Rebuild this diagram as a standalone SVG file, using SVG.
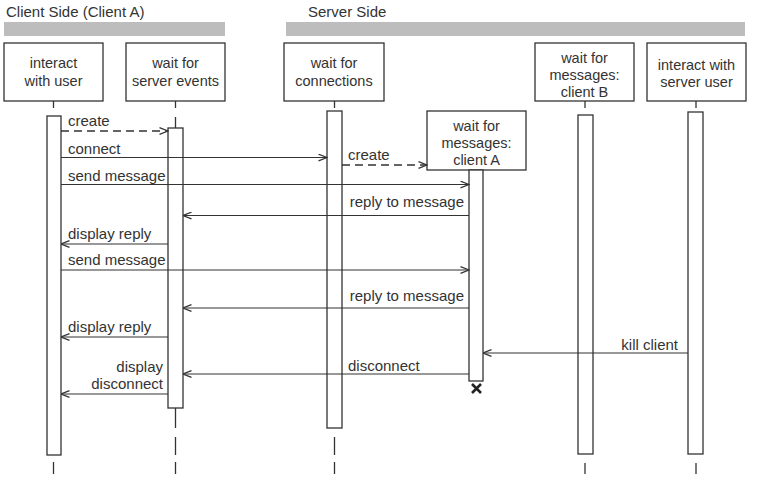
<svg xmlns="http://www.w3.org/2000/svg" width="760" height="487" viewBox="0 0 760 487">
<style>
text{font-family:"Liberation Sans",Arial,sans-serif;fill:#333}
.hd{font-size:15px}
.bl{font-size:14.5px;text-anchor:middle}
.ml{font-size:15px}
.end{text-anchor:end}
.box{fill:#fff;stroke:#333;stroke-width:1.3}
.bar{fill:#fff;stroke:#333;stroke-width:1.3}
.band{fill:#bdbdbd}
.life{stroke:#333;stroke-width:1.3}
.msg{stroke:#333;stroke-width:1.1;fill:none;marker-end:url(#arr)}
.dash{stroke-dasharray:8,5;stroke-width:1.4}
</style>
<defs>
<marker id="arr" viewBox="0 0 10 8" refX="9.5" refY="4" markerWidth="10" markerHeight="8" markerUnits="userSpaceOnUse" orient="auto">
<path d="M1,0.7 L9.5,4 L1,7.3" fill="none" stroke="#333" stroke-width="1.3"/>
</marker>
</defs>
<rect width="760" height="487" fill="#fff"/>
<g id="headers">
<text class="hd" x="6" y="17">Client Side (Client A)</text>
<rect class="band" x="4" y="22" width="221" height="14"/>
<text class="hd" x="308" y="17">Server Side</text>
<rect class="band" x="286" y="22" width="459" height="14"/>
</g>
<g id="lifelines">
<line class="life" x1="53.5" y1="101" x2="53.5" y2="108"/>
<line class="life" x1="53.5" y1="462" x2="53.5" y2="474"/>
<line class="life" x1="175.5" y1="101" x2="175.5" y2="108"/>
<line class="life" x1="175.5" y1="117" x2="175.5" y2="128"/>
<line class="life" x1="175.5" y1="408" x2="175.5" y2="428"/>
<line class="life" x1="175.5" y1="437" x2="175.5" y2="455"/>
<line class="life" x1="175.5" y1="462" x2="175.5" y2="474"/>
<line class="life" x1="334.5" y1="101" x2="334.5" y2="108"/>
<line class="life" x1="334.5" y1="437" x2="334.5" y2="455"/>
<line class="life" x1="334.5" y1="462" x2="334.5" y2="474"/>
<line class="life" x1="585" y1="101" x2="585" y2="108"/>
<line class="life" x1="585" y1="463" x2="585" y2="474"/>
<line class="life" x1="696" y1="101" x2="696" y2="108"/>
<line class="life" x1="696" y1="463" x2="696" y2="474"/>
</g>
<g id="client-user">
<rect class="box" x="4" y="43" width="99" height="58"/>
<text class="bl" x="53.5" y="68">interact</text>
<text class="bl" x="53.5" y="86">with user</text>
<rect class="bar" x="47" y="116" width="14" height="339"/>
</g>
<g id="server-events">
<rect class="box" x="126" y="43" width="99" height="58"/>
<text class="bl" x="175.5" y="68">wait for</text>
<text class="bl" x="175.5" y="86">server events</text>
<rect class="bar" x="168" y="128" width="15" height="280"/>
</g>
<g id="connections">
<rect class="box" x="284" y="43" width="100" height="58"/>
<text class="bl" x="334" y="68">wait for</text>
<text class="bl" x="334" y="86">connections</text>
<rect class="bar" x="327" y="111" width="15" height="317"/>
</g>
<g id="messages-client-a">
<rect class="box" x="427" y="111" width="99" height="59"/>
<text class="bl" x="476.5" y="131">wait for</text>
<text class="bl" x="476.5" y="148">messages:</text>
<text class="bl" x="476.5" y="165">client A</text>
<rect class="bar" x="469" y="170" width="14" height="211"/>
<path d="M472,384 L481,393 M481,384 L472,393" stroke="#222" stroke-width="2.6"/>
</g>
<g id="messages-client-b">
<rect class="box" x="535" y="43" width="99" height="58"/>
<text class="bl" x="584.5" y="63">wait for</text>
<text class="bl" x="584.5" y="80">messages:</text>
<text class="bl" x="584.5" y="97">client B</text>
<rect class="bar" x="578" y="115" width="15" height="339"/>
</g>
<g id="server-user">
<rect class="box" x="647" y="43" width="99" height="58"/>
<text class="bl" x="696.5" y="70">interact with</text>
<text class="bl" x="696.5" y="87">server user</text>
<rect class="bar" x="688" y="112" width="15" height="342"/>
</g>
<g id="connectors">
<line class="msg dash" x1="61" y1="131" x2="168" y2="131"/>
<text class="ml" x="68" y="126">create</text>
<line class="msg" x1="61" y1="157.5" x2="327" y2="157.5"/>
<text class="ml" x="68" y="154">connect</text>
<line class="msg dash" x1="342" y1="165" x2="427" y2="165"/>
<text class="ml" x="348" y="160">create</text>
<line class="msg" x1="61" y1="184.5" x2="469" y2="184.5"/>
<text class="ml" x="68" y="181">send message</text>
<line class="msg" x1="469" y1="215.5" x2="183" y2="215.5"/>
<text class="ml end" x="464" y="207">reply to message</text>
<line class="msg" x1="168" y1="244" x2="61" y2="244"/>
<text class="ml" x="68" y="238.5">display reply</text>
<line class="msg" x1="61" y1="270" x2="469" y2="270"/>
<text class="ml" x="68" y="265">send message</text>
<line class="msg" x1="469" y1="308" x2="183" y2="308"/>
<text class="ml end" x="464" y="301">reply to message</text>
<line class="msg" x1="168" y1="337" x2="61" y2="337"/>
<text class="ml" x="68" y="331.5">display reply</text>
<line class="msg" x1="688" y1="353" x2="483" y2="353"/>
<text class="ml end" x="678" y="349.5">kill client</text>
<line class="msg" x1="469" y1="374" x2="183" y2="374"/>
<text class="ml" x="348" y="371">disconnect</text>
<line class="msg" x1="168" y1="394" x2="61" y2="394"/>
<text class="ml end" x="163" y="371.5">display</text>
<text class="ml end" x="163" y="389">disconnect</text>
</g>
</svg>
